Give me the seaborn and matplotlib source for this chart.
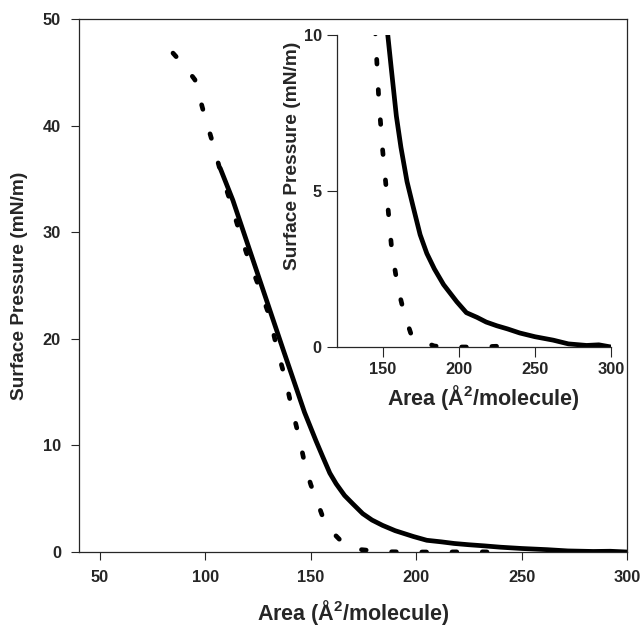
import numpy as np
import pandas as pd
import matplotlib
matplotlib.use("Agg")
import matplotlib.pyplot as plt
import seaborn as sns

# --- data ---
solid_area = [107, 113, 121, 129, 137, 142, 147, 152.5, 155.5, 159, 162, 166, 170,
              174.6, 179, 184, 190, 198.7, 205, 212, 218, 225, 232, 240, 250,
              262, 272, 284, 292, 300]
solid_pressure = [36.0, 33.0, 28.3, 23.6, 18.9, 16.0, 13.1, 10.4, 9.0, 7.4, 6.4, 5.3, 4.5,
                  3.6, 3.0, 2.5, 2.0, 1.45, 1.1, 0.95, 0.8, 0.68, 0.58, 0.45, 0.33,
                  0.22, 0.1, 0.05, 0.07, 0.0]

dashed_area = [84.6, 90, 95.0, 98.8, 103.1, 107, 111.6, 115.9, 120.2, 125.9, 130.6,
               133.9, 137.7, 141.0, 144.5, 147.5, 150, 152.5, 156, 160, 164, 169.4,
               175, 184, 198, 213, 228, 235]
dashed_pressure = [46.8, 45.6, 44.3, 41.5, 38.6, 35.8, 33.0, 30.2, 27.6, 24.6, 22.0,
                   19.1, 16.4, 13.5, 10.7, 7.9, 6.3, 5.0, 3.1, 1.9, 1.1, 0.3,
                   0.2, 0.03, 0.0, 0.0, 0.03, 0.0]

main_xticks = [50, 100, 150, 200, 250, 300]
main_yticks = [0, 10, 20, 30, 40, 50]
inset_xticks = [150, 200, 250, 300]
inset_yticks = [0, 5, 10]

xlabel = "Area (Å$^{\\mathbf{2}}$/molecule)"
ylabel = "Surface Pressure (mN/m)"

sns.set_style("ticks")
plt.rcParams["font.family"] = ["Liberation Sans", "DejaVu Sans"]
plt.rcParams["font.weight"] = "bold"
plt.rcParams["axes.labelweight"] = "bold"
plt.rcParams["mathtext.default"] = "bf"
plt.rcParams["mathtext.fontset"] = "custom"
plt.rcParams["mathtext.bf"] = "Liberation Sans:bold"
plt.rcParams["mathtext.rm"] = "Liberation Sans:bold"

df_s = pd.DataFrame({"area": solid_area, "pressure": solid_pressure})
df_d = pd.DataFrame({"area": dashed_area, "pressure": dashed_pressure})

W, H = 641, 630
fig = plt.figure(figsize=(W/100, H/100), dpi=100)
ax = fig.add_axes([79/W, 1-552/H, (627-79)/W, (552-19)/H])
axin = fig.add_axes([337/W, 1-347/H, (611-337)/W, (347-35)/H])

def draw(a, lw):
    sns.lineplot(data=df_s, x="area", y="pressure", ax=a, color="black", lw=lw,
                 sort=False, estimator=None, solid_capstyle="round")
    sns.lineplot(data=df_d, x="area", y="pressure", ax=a, color="black", lw=lw,
                 sort=False, estimator=None, linestyle=(0, (1.0, 5.4)),
                 dash_capstyle="round")

draw(ax, 3.4)
draw(axin, 3.4)

XL_FS = 15.5
YL_FS = 13.8
TK_FS = 11.8

ax.set_xlim(40, 300)
ax.set_ylim(0, 50)
ax.set_xticks(main_xticks)
ax.set_yticks(main_yticks)
ax.set_xlabel(xlabel, fontsize=XL_FS, fontweight="bold")
ax.set_ylabel(ylabel, fontsize=YL_FS, fontweight="bold")
ax.xaxis.set_label_coords(0.5, (552-598)/533)
ax.yaxis.set_label_coords((28-79)/548, 0.5)
ax.tick_params(direction="out", length=6, width=0.8, labelsize=TK_FS, pad=7)
for s in ax.spines.values():
    s.set_linewidth(0.9)

axin.set_xlim(120, 300)
axin.set_ylim(0, 10)
axin.set_xticks(inset_xticks)
axin.set_yticks(inset_yticks)
axin.set_xlabel(xlabel, fontsize=XL_FS, fontweight="bold")
axin.set_ylabel(ylabel, fontsize=YL_FS, fontweight="bold")
axin.xaxis.set_label_coords((483-337)/274, (347-383)/312)
axin.yaxis.set_label_coords((301-337)/274, (347-156)/312)
axin.tick_params(direction="out", length=7, width=0.8, labelsize=TK_FS, pad=4)
axin.spines["top"].set_visible(False)
axin.spines["right"].set_visible(False)
for s in ["left", "bottom"]:
    axin.spines[s].set_linewidth(0.9)
axin.patch.set_alpha(0)

for a in (ax, axin):
    for lab in a.get_xticklabels() + a.get_yticklabels():
        lab.set_fontweight("bold")

fig.savefig("out.png", dpi=100)
